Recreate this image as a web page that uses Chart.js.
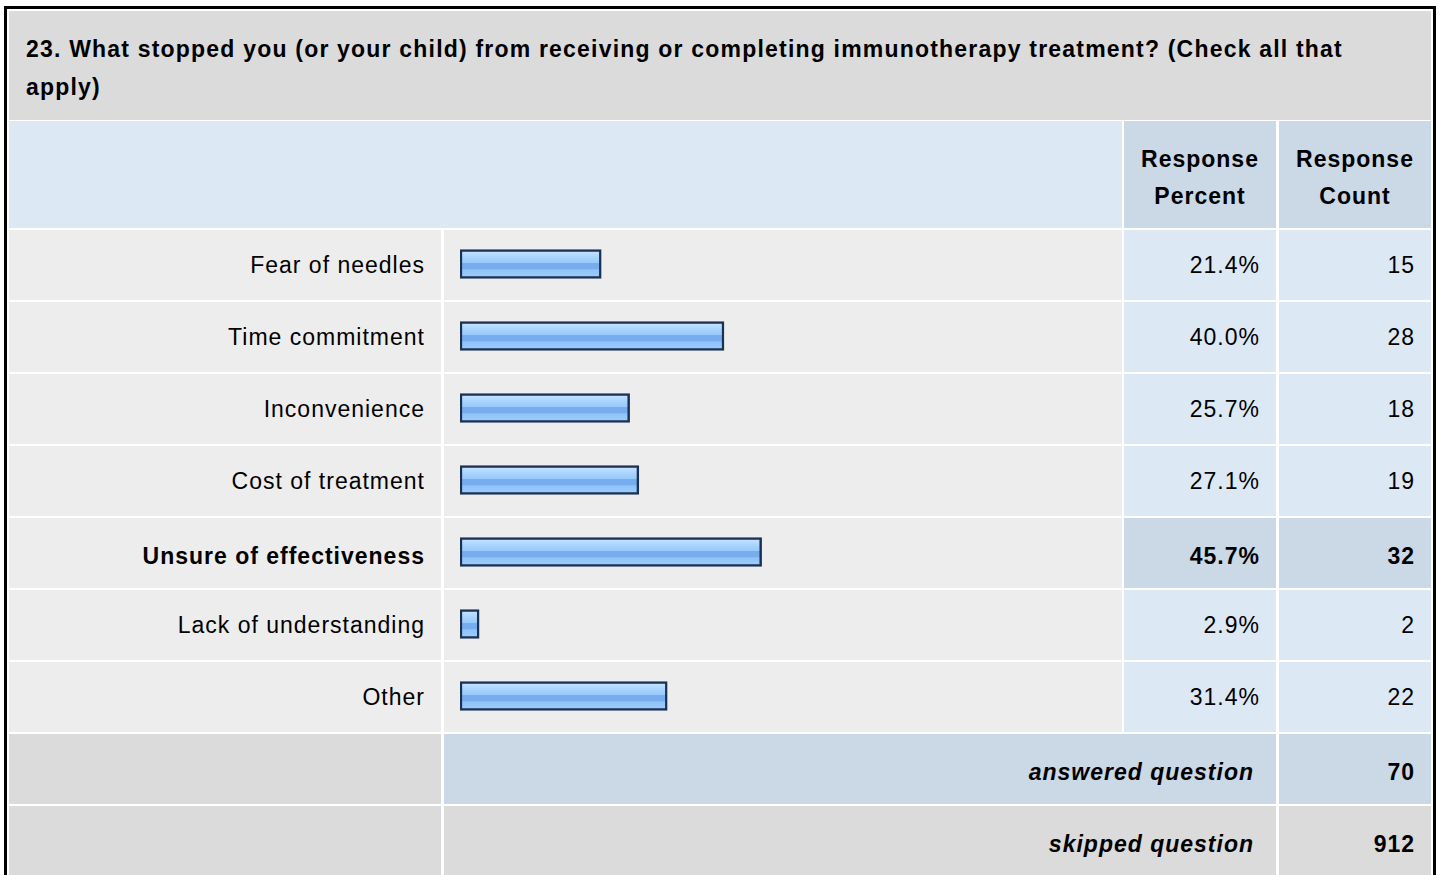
<!DOCTYPE html>
<html>
<head>
<meta charset="utf-8">
<script src="https://cdn.jsdelivr.net/npm/chart.js@4.4.0/dist/chart.umd.min.js"></script>
<style>
  html, body { margin: 0; padding: 0; background: #fff; overflow: hidden; }
  body { width: 1440px; height: 875px; position: relative;
         font-family: "Liberation Sans", Arial, sans-serif; color: #000; }
  .frame { position: absolute; left: 4px; top: 6px; width: 1426px; height: 900px;
           border: 3px solid #000; background: #fff; }
  .cell { position: absolute; box-sizing: border-box; font-size: 23px; letter-spacing: 1px;
          display: flex; align-items: center; }
  .title { background: #dbdbdb; font-weight: bold; line-height: 38px; padding: 0 40px 0 17px;
           align-items: flex-start; padding-top: 19px; letter-spacing: 1.2px; }
  .grey { background: #ededed; }
  .dark { background: #dbdbdb; }
  .blue { background: #dde8f5; }
  .blue2 { background: #cbd8e6; }
  .right { justify-content: flex-end; padding-right: 16px; }
  .head { font-weight: bold; justify-content: center; text-align: center; line-height: 37px; padding-top: 6px; }
  .bold { font-weight: bold; padding-top: 6px; }
  .foot { font-weight: bold; font-style: italic; justify-content: flex-end; padding-right: 22px; padding-top: 6px; }
  #barBox { position: absolute; left: 444px; top: 228px; width: 678px; height: 504px; }
</style>
</head>
<body>
<div class="frame"></div>
<div id="table"></div>
<div id="barBox"><canvas id="barChart"></canvas></div>
<script>
const questionTitle = '23. What stopped you (or your child) from receiving or completing immunotherapy treatment? (Check all that apply)';
const categories = ['Fear of needles', 'Time commitment', 'Inconvenience', 'Cost of treatment',
                    'Unsure of effectiveness', 'Lack of understanding', 'Other'];
const percents = [21.4, 40.0, 25.7, 27.1, 45.7, 2.9, 31.4];
const counts = [15, 28, 18, 19, 32, 2, 22];
const answered = 70;
const skipped = 912;

// the top answer gets bold text and darker value cells
const topIndex = percents.indexOf(Math.max(...percents));

const ROW_TOP = 230, ROW_STEP = 72, ROW_H = 70;
const table = document.getElementById('table');

function addCell(cls, x, y, w, h, html) {
  const d = document.createElement('div');
  d.className = 'cell ' + cls;
  Object.assign(d.style, { left: x + 'px', top: y + 'px', width: w + 'px', height: h + 'px' });
  d.innerHTML = html || '';
  table.appendChild(d);
  return d;
}

addCell('title', 9, 11, 1422, 109, questionTitle);
addCell('blue', 9, 121, 1113, 107);
addCell('blue2 head', 1124, 121, 152, 107, 'Response<br>Percent');
addCell('blue2 head', 1279, 121, 152, 107, 'Response<br>Count');

categories.forEach((name, i) => {
  const y = ROW_TOP + i * ROW_STEP;
  const hi = i === topIndex;
  addCell('grey right' + (hi ? ' bold' : ''), 9, y, 432, ROW_H, name);
  addCell('grey', 444, y, 678, ROW_H);
  addCell((hi ? 'blue2 bold' : 'blue') + ' right', 1124, y, 152, ROW_H, percents[i].toFixed(1) + '%');
  addCell((hi ? 'blue2 bold' : 'blue') + ' right', 1279, y, 152, ROW_H, counts[i]);
});

const footTop = ROW_TOP + categories.length * ROW_STEP;
addCell('dark', 9, footTop, 432, ROW_H);
addCell('blue2 foot', 444, footTop, 832, ROW_H, 'answered question');
addCell('blue2 right bold', 1279, footTop, 152, ROW_H, answered);
addCell('dark', 9, footTop + ROW_STEP, 432, ROW_H);
addCell('dark foot', 444, footTop + ROW_STEP, 832, ROW_H, 'skipped question');
addCell('dark right bold', 1279, footTop + ROW_STEP, 152, ROW_H, skipped);

const BAR_H = 29;

// glossy blue fill, one gradient per bar
function barFill(c) {
  const chart = c.chart;
  if (!chart.chartArea || c.dataIndex === undefined) return '#94c4f8';
  const y = chart.scales.y.getPixelForValue(c.dataIndex);
  const g = chart.ctx.createLinearGradient(0, y - BAR_H / 2, 0, y + BAR_H / 2);
  g.addColorStop(0.00, '#c8e4ff');
  g.addColorStop(0.18, '#b5daff');
  g.addColorStop(0.30, '#a5d1fd');
  g.addColorStop(0.45, '#99cafb');
  g.addColorStop(0.48, '#76adee');
  g.addColorStop(0.66, '#76adee');
  g.addColorStop(0.70, '#8fc2f9');
  g.addColorStop(1.00, '#a0cffc');
  return g;
}

new Chart(document.getElementById('barChart'), {
  type: 'bar',
  data: {
    labels: categories,
    datasets: [{
      data: percents,
      backgroundColor: barFill,
      borderColor: '#1b3154',
      borderWidth: 2.5,
      borderSkipped: false,
      barThickness: BAR_H
    }]
  },
  options: {
    indexAxis: 'y',
    responsive: true,
    maintainAspectRatio: false,
    animation: false,
    layout: { padding: { left: 16, right: 2, top: 0, bottom: 0 } },
    scales: {
      x: { display: false, min: 0, max: 100 },
      y: { display: false }
    },
    plugins: {
      legend: { display: false },
      tooltip: { enabled: false }
    }
  }
});
</script>
</body>
</html>
